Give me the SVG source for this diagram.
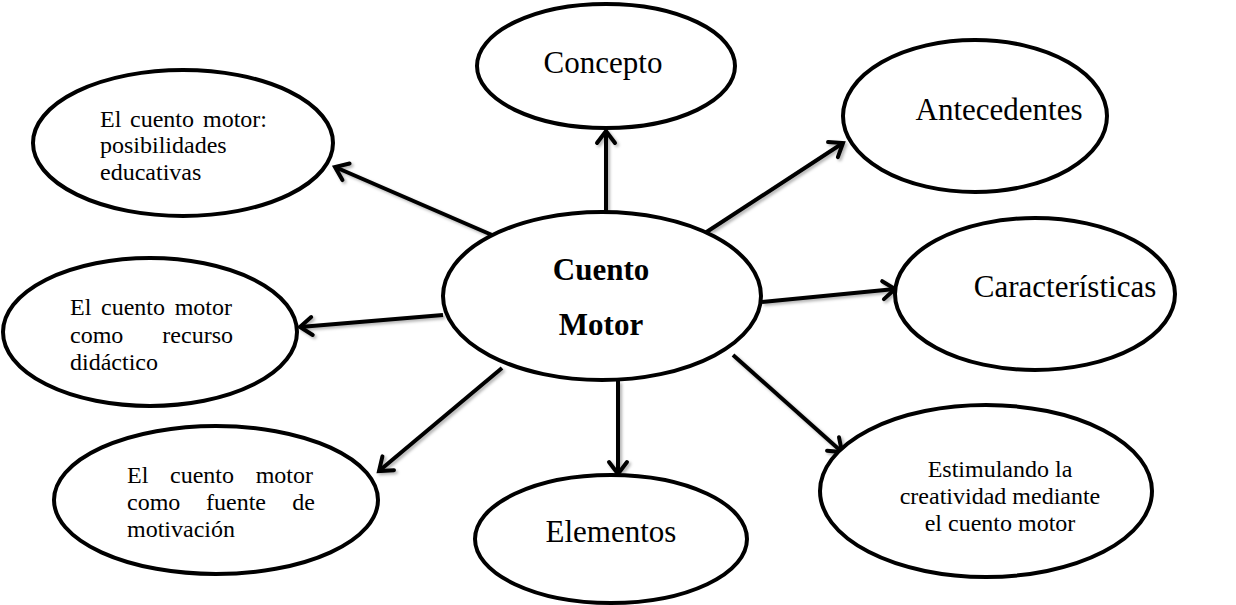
<svg xmlns="http://www.w3.org/2000/svg" width="1236" height="605" viewBox="0 0 1236 605">
<style>
  .node { fill: #ffffff; stroke: #000000; stroke-width: 4; }
  .lbl { font-family: "Liberation Serif", "Times New Roman", serif; fill: #000000; }
  .big { font-size: 31px; }
  .small { font-size: 24px; }
  .bold { font-weight: bold; }
  .conn { stroke: #000000; stroke-width: 4; fill: none; }
</style>
<defs>
  <marker id="arrow" markerUnits="userSpaceOnUse" markerWidth="32" markerHeight="32" viewBox="-16 -16 32 32" refX="0" refY="0" orient="auto">
    <path d="M -12 -9 L 0 0 L -12 9" fill="none" stroke="#000" stroke-width="4" stroke-linecap="round" stroke-linejoin="miter"/>
  </marker>
  <filter id="shadow" x="-20%" y="-20%" width="140%" height="140%">
    <feDropShadow dx="2" dy="2" stdDeviation="1.5" flood-color="#000" flood-opacity="0.3"/>
  </filter>
</defs>
<rect width="1236" height="605" fill="#ffffff"/>

<g id="connectors" filter="url(#shadow)">
  <line class="conn" x1="606" y1="212" x2="606" y2="131" marker-end="url(#arrow)"/>
  <line class="conn" x1="705" y1="233" x2="843" y2="143" marker-end="url(#arrow)"/>
  <line class="conn" x1="762" y1="302" x2="895" y2="289" marker-end="url(#arrow)"/>
  <line class="conn" x1="733" y1="355" x2="842" y2="452" marker-end="url(#arrow)"/>
  <line class="conn" x1="618" y1="381" x2="618" y2="474" marker-end="url(#arrow)"/>
  <line class="conn" x1="502" y1="368" x2="379" y2="471" marker-end="url(#arrow)"/>
  <line class="conn" x1="443" y1="315" x2="300" y2="327" marker-end="url(#arrow)"/>
  <line class="conn" x1="492" y1="235" x2="335" y2="167" marker-end="url(#arrow)"/>
</g>

<g id="node-center">
  <ellipse class="node" cx="602" cy="296" rx="159" ry="84"/>
  <text class="lbl big bold" x="601" y="280" text-anchor="middle">Cuento</text>
  <text class="lbl big bold" x="601" y="335" text-anchor="middle">Motor</text>
</g>

<g id="node-concepto">
  <ellipse class="node" cx="606" cy="66" rx="129" ry="62"/>
  <text class="lbl big" x="603" y="73" text-anchor="middle">Concepto</text>
</g>

<g id="node-antecedentes">
  <ellipse class="node" cx="975" cy="116" rx="132" ry="76"/>
  <text class="lbl big" x="999" y="120" text-anchor="middle">Antecedentes</text>
</g>

<g id="node-caracteristicas">
  <ellipse class="node" cx="1035" cy="294" rx="140" ry="76"/>
  <text class="lbl big" x="1065" y="297" text-anchor="middle">Características</text>
</g>

<g id="node-estimulando">
  <ellipse class="node" cx="986" cy="491" rx="166" ry="86"/>
  <text class="lbl small" x="1000" y="477" text-anchor="middle">Estimulando la</text>
  <text class="lbl small" x="1000" y="504" text-anchor="middle">creatividad mediante</text>
  <text class="lbl small" x="1000" y="531" text-anchor="middle">el cuento motor</text>
</g>

<g id="node-elementos">
  <ellipse class="node" cx="611" cy="539" rx="136" ry="64"/>
  <text class="lbl big" x="611" y="542" text-anchor="middle">Elementos</text>
</g>

<g id="node-posibilidades">
  <ellipse class="node" cx="183" cy="143" rx="150" ry="73"/>
  <text class="lbl small" y="127"><tspan x="100">El</tspan><tspan x="130">cuento</tspan></text>
  <text class="lbl small" x="267" y="127" text-anchor="end">motor:</text>
  <text class="lbl small" x="100" y="153">posibilidades</text>
  <text class="lbl small" x="100" y="180">educativas</text>
</g>

<g id="node-didactico">
  <ellipse class="node" cx="150" cy="332" rx="147" ry="74"/>
  <text class="lbl small" y="315"><tspan x="70">El</tspan><tspan x="101">cuento</tspan></text>
  <text class="lbl small" x="232" y="315" text-anchor="end">motor</text>
  <text class="lbl small" x="70" y="343">como</text>
  <text class="lbl small" x="233" y="343" text-anchor="end">recurso</text>
  <text class="lbl small" x="70" y="370">didáctico</text>
</g>

<g id="node-motivacion">
  <ellipse class="node" cx="216" cy="500" rx="162" ry="74"/>
  <text class="lbl small" y="483"><tspan x="127">El</tspan><tspan x="170">cuento</tspan></text>
  <text class="lbl small" x="313" y="483" text-anchor="end">motor</text>
  <text class="lbl small" y="510"><tspan x="127">como</tspan><tspan x="206">fuente</tspan></text>
  <text class="lbl small" x="315" y="510" text-anchor="end">de</text>
  <text class="lbl small" x="127" y="537">motivación</text>
</g>
</svg>
